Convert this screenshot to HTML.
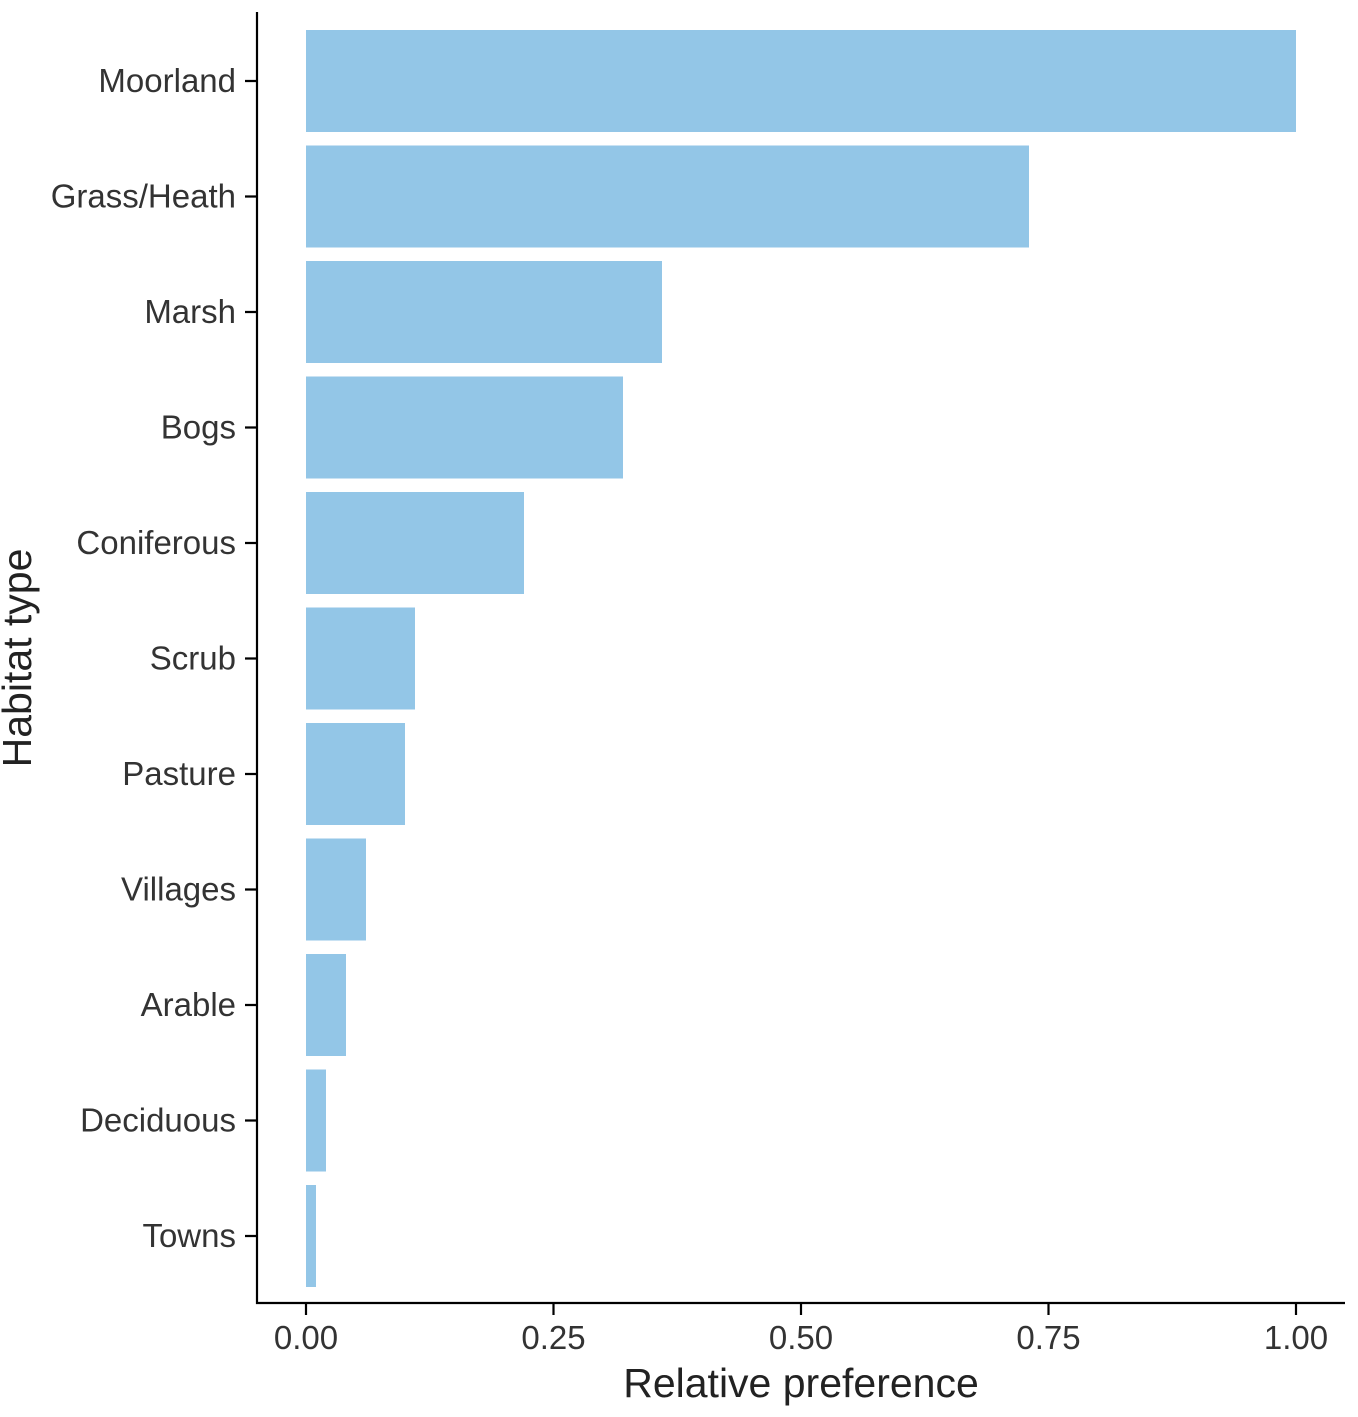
<!DOCTYPE html>
<html><head><meta charset="utf-8"><style>body{margin:0;background:#fff}svg{display:block}</style></head>
<body>
<svg width="1358" height="1417" xmlns="http://www.w3.org/2000/svg" font-family="Liberation Sans, Arial, sans-serif">
<g fill="#93C6E7">
<rect x="306" y="30" width="990" height="102"/>
<rect x="306" y="145.5" width="723" height="102"/>
<rect x="306" y="261" width="356" height="102"/>
<rect x="306" y="376.5" width="317" height="102"/>
<rect x="306" y="492" width="218" height="102"/>
<rect x="306" y="607.5" width="109" height="102"/>
<rect x="306" y="723" width="99" height="102"/>
<rect x="306" y="838.5" width="60" height="102"/>
<rect x="306" y="954" width="40" height="102"/>
<rect x="306" y="1069.5" width="20" height="102"/>
<rect x="306" y="1185" width="10" height="102"/>
</g>
<g stroke="#000" stroke-width="2.2" fill="none">
<path d="M257 12V1303H1345"/>
<path d="M245 81H257M245 196.5H257M245 312H257M245 427.5H257M245 543H257M245 658.5H257M245 774H257M245 889.5H257M245 1005H257M245 1120.5H257M245 1236H257"/>
<path d="M306 1303V1315M553.5 1303V1315M801 1303V1315M1048.5 1303V1315M1296 1303V1315"/>
</g>
<g fill="#333" font-size="33" text-anchor="end">
<text x="236" y="92">Moorland</text>
<text x="236" y="207.5">Grass/Heath</text>
<text x="236" y="323">Marsh</text>
<text x="236" y="438.5">Bogs</text>
<text x="236" y="554">Coniferous</text>
<text x="236" y="669.5">Scrub</text>
<text x="236" y="785">Pasture</text>
<text x="236" y="900.5">Villages</text>
<text x="236" y="1016">Arable</text>
<text x="236" y="1131.5">Deciduous</text>
<text x="236" y="1247">Towns</text>
</g>
<g fill="#333" font-size="33" text-anchor="middle">
<text x="306" y="1349">0.00</text>
<text x="553.5" y="1349">0.25</text>
<text x="801" y="1349">0.50</text>
<text x="1048.5" y="1349">0.75</text>
<text x="1296" y="1349">1.00</text>
</g>
<text x="801" y="1397" font-size="41" text-anchor="middle" fill="#222">Relative preference</text>
<text transform="translate(31,658) rotate(-90)" font-size="41" text-anchor="middle" fill="#222">Habitat type</text>
</svg>
</body></html>
